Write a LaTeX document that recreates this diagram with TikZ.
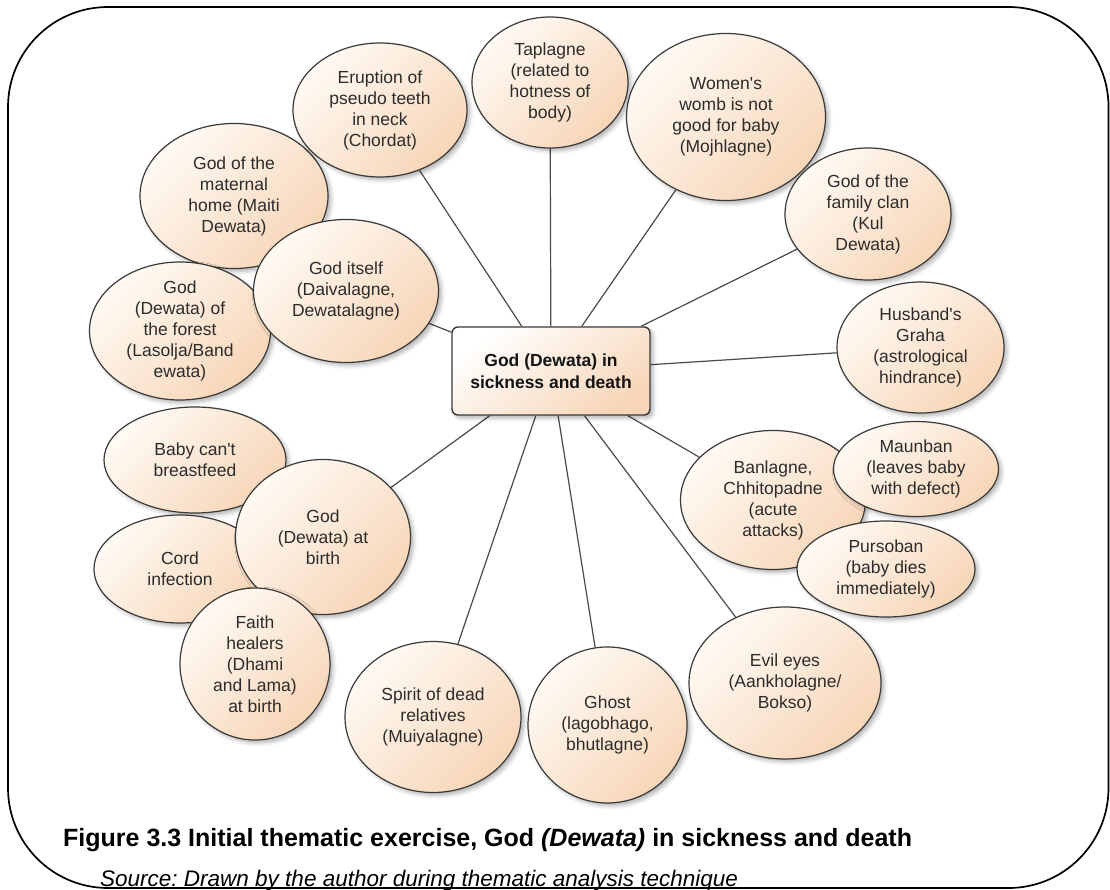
\documentclass[tikz,border=0pt]{standalone}
\usepackage{fontspec}
\setmainfont{Liberation Sans}[Ligatures=TeXOff]
\usetikzlibrary{shapes.geometric,shadows.blur,backgrounds}
\frenchspacing

\definecolor{peachlight}{HTML}{FFFAF4}
\definecolor{peachdark}{HTML}{F7D6B8}
\definecolor{edgegray}{HTML}{3A3A3A}
\definecolor{linkgray}{HTML}{4A4A4A}
\definecolor{inkgray}{HTML}{2C2C2C}

\tikzset{
  softshadow/.style={blur shadow={shadow xshift=3pt, shadow yshift=-3pt,
      shadow blur radius=4pt, shadow opacity=30}},
  bubble/.style={ellipse, draw=edgegray, line width=1.2pt,
      top color=peachlight, bottom color=peachdark, shading angle=45,
      inner sep=-3pt, align=center, text=inkgray,
      font=\fontsize{17.5}{21}\selectfont, softshadow},
  hub/.style={rectangle, rounded corners=6pt, draw=edgegray, line width=1.4pt,
      top color=white, bottom color=peachdark, shading angle=35,
      minimum width=198pt, minimum height=88pt, align=center, text=black!92,
      font=\bfseries\fontsize{17.5}{22}\selectfont, softshadow},
  link/.style={draw=linkgray, line width=1.2pt},
  frame/.style={draw=black, line width=1.7pt, rounded corners=100pt},
}

\begin{document}
\begin{tikzpicture}[x=1pt, y=-1pt]
\useasboundingbox (0,0) rectangle (1110,890);

% outer frame
\draw[frame] (8,7) rectangle (1108.5,888);

% left cluster
\node[bubble, minimum width=188pt, minimum height=145pt] (maiti) at (234,196)
  {God of the\\maternal\\home (Maiti\\Dewata)};
\node[bubble, minimum width=181pt, minimum height=138pt] (forest) at (180,331)
  {God\\(Dewata) of\\the forest\\(Lasolja/Band\\ewata)};
\node[bubble, minimum width=185pt, minimum height=143pt] (itself) at (346,291)
  {God itself\\(Daivalagne,\\Dewatalagne)};

% upper ring
\node[bubble, minimum width=174pt, minimum height=134pt] (erupt) at (380,110)
  {Eruption of\\pseudo teeth\\in neck\\(Chordat)};
\node[bubble, minimum width=156pt, minimum height=131pt] (tap) at (550,82.5)
  {Taplagne\\(related to\\hotness of\\body)};
\node[bubble, minimum width=199pt, minimum height=167pt] (womb) at (726,117)
  {Women's\\womb is not\\good for baby\\(Mojhlagne)};
\node[bubble, minimum width=166pt, minimum height=132pt] (kul) at (868,214)
  {God of the\\family clan\\(Kul\\Dewata)};
\node[bubble, minimum width=167pt, minimum height=131pt] (husb) at (920.5,347.5)
  {Husband's\\Graha\\(astrological\\hindrance)};

% acute attacks and its two satellites
\node[bubble, minimum width=185pt, minimum height=139pt] (ban) at (773,500)
  {Banlagne,\\Chhitopadne\\(acute\\attacks)};
\node[bubble, minimum width=165pt, minimum height=95pt] (maun) at (916,469)
  {Maunban\\(leaves baby\\with defect)};
\node[bubble, minimum width=178pt, minimum height=96pt] (purs) at (886,569)
  {Pursoban\\(baby dies\\immediately)};

% lower ring
\node[bubble, minimum width=192pt, minimum height=152pt] (evil) at (785,683)
  {Evil eyes\\(Aankholagne/\\Bokso)};
\node[bubble, minimum width=159pt, minimum height=156pt] (ghost) at (607.5,725)
  {Ghost\\(lagobhago,\\bhutlagne)};
\node[bubble, minimum width=176pt, minimum height=151pt] (spirit) at (433,717)
  {Spirit of dead\\relatives\\(Muiyalagne)};

% birth cluster
\node[bubble, minimum width=182pt, minimum height=106pt] (baby) at (195,460)
  {Baby can't\\breastfeed};
\node[bubble, minimum width=172pt, minimum height=108pt] (cord) at (180,569)
  {Cord\\infection};
\node[bubble, minimum width=175pt, minimum height=155pt] (gbirth) at (323,537)
  {God\\(Dewata) at\\birth};
\node[bubble, minimum width=150pt, minimum height=152pt] (faith) at (255,664)
  {Faith\\healers\\(Dhami\\and Lama)\\at birth};

% central theme
\node[hub] (hub) at (551,371) {God (Dewata) in\\sickness and death};

% spokes
\begin{scope}[on background layer]
  \foreach \n in {erupt,tap,womb,kul,husb,ban,evil,ghost,spirit,gbirth,itself}
    \draw[link] (hub) -- (\n);
\end{scope}

% caption and source
\node[anchor=base west, inner sep=0pt, font=\bfseries\fontsize{25}{30}\selectfont]
  (caption) at (63,846)
  {Figure 3.3 Initial thematic exercise, God \textit{(Dewata)} in sickness and death};
\node[anchor=base west, inner sep=0pt, font=\itshape\fontsize{22.5}{27}\selectfont]
  (source) at (100,886)
  {Source: Drawn by the author during thematic analysis technique};
\end{tikzpicture}
\end{document}
